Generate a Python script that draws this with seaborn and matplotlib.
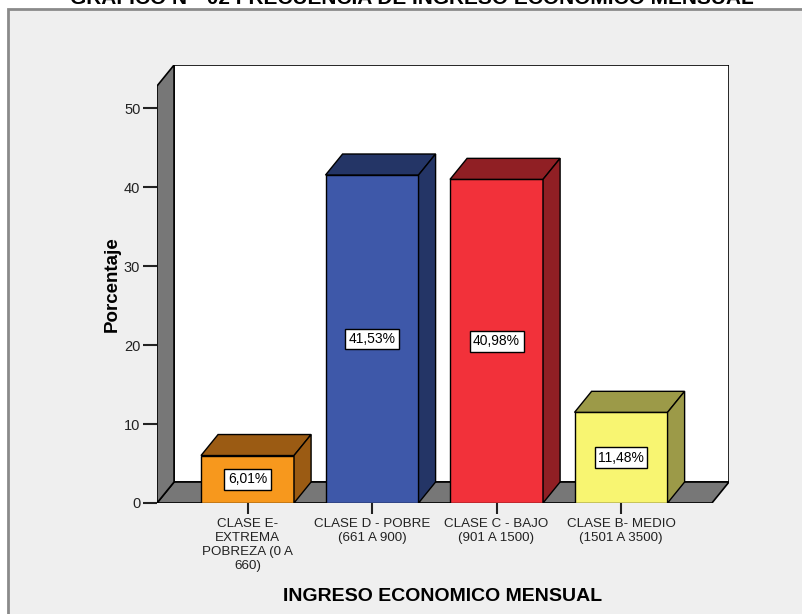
import matplotlib
matplotlib.use("Agg")
import matplotlib.pyplot as plt
from matplotlib.patches import Polygon, Rectangle
import seaborn as sns
import pandas as pd

# Data
categories = [
    "CLASE E-\nEXTREMA\nPOBREZA (0 A\n660)",
    "CLASE D - POBRE\n(661 A 900)",
    "CLASE C - BAJO\n(901 A 1500)",
    "CLASE B- MEDIO\n(1501 A 3500)",
]
porcentaje = [6.01, 41.53, 40.98, 11.48]
yticks = [0, 10, 20, 30, 40, 50]

# Colours: front face / shaded top & side faces
front_colors = ["#F7981D", "#3E58A9", "#F2313A", "#F8F571"]
shade_colors = ["#9B5B13", "#243566", "#901F24", "#9C9A48"]
wall_gray = "#777777"
bg_gray = "#EFEFEF"

# 3D look parameters (depth offset in data units)
DX, DY = 0.137, 2.66
X_LEFT, X_RIGHT = -0.727, 3.73
WALL_TOP = 52.8
BAR_W = 0.747

sns.set_theme(style="white")
plt.rcParams["font.family"] = ["Liberation Sans", "DejaVu Sans"]

fig = plt.figure(figsize=(8.03, 6.14), dpi=100)
fig.patch.set_facecolor("white")

# Panel frame
fig.patches.append(Rectangle((8 / 803, -0.05), 1.2, (614 - 9) / 614 + 0.05,
                             transform=fig.transFigure, facecolor=bg_gray,
                             edgecolor="#8A8A8A", linewidth=2, zorder=-5))

fig.text(412 / 803, (614 - 4) / 614,
         "GRAFICO N°  02 FRECUENCIA DE INGRESO ECONOMICO MENSUAL",
         ha="center", va="baseline", fontsize=15, fontweight="bold", color="black")

ax = fig.add_axes([157 / 803, (614 - 503) / 614, (729 - 157) / 803, (503 - 65) / 614])
ax.set_facecolor("none")
ax.set_zorder(1)

df = pd.DataFrame({"cat": categories, "pct": porcentaje})
sns.barplot(data=df, x="cat", y="pct", hue="cat", palette=front_colors,
            legend=False, width=BAR_W, edgecolor="black", linewidth=1,
            saturation=1, ax=ax, zorder=2)

# Floor, left wall and back wall
ax.add_patch(Polygon([(X_LEFT, 0), (X_RIGHT, 0), (X_RIGHT + DX, DY), (X_LEFT + DX, DY)],
                     closed=True, facecolor=wall_gray, edgecolor="black", lw=1.2, zorder=0.6))
ax.add_patch(Polygon([(X_LEFT, 0), (X_LEFT, WALL_TOP), (X_LEFT + DX, WALL_TOP + DY), (X_LEFT + DX, DY)],
                     closed=True, facecolor=wall_gray, edgecolor="black", lw=1.2, zorder=0.6))
ax.add_patch(Rectangle((X_LEFT + DX, DY), X_RIGHT - X_LEFT, WALL_TOP,
                       facecolor="white", edgecolor="black", lw=1.2, zorder=0.5))

# Top and side faces of each bar, plus the value label
for patch, val, shade in zip(ax.patches[:len(porcentaje)], porcentaje, shade_colors):
    x0 = patch.get_x()
    x1 = x0 + patch.get_width()
    h = patch.get_height()
    ax.add_patch(Polygon([(x0, h), (x1, h), (x1 + DX, h + DY), (x0 + DX, h + DY)],
                         closed=True, facecolor=shade, edgecolor="black", lw=1, zorder=2))
    ax.add_patch(Polygon([(x1, 0), (x1, h), (x1 + DX, h + DY), (x1 + DX, DY)],
                         closed=True, facecolor=shade, edgecolor="black", lw=1, zorder=2))
    ax.text((x0 + x1) / 2, h / 2, f"{val:.2f}%".replace(".", ","),
            ha="center", va="center", fontsize=10, color="black", zorder=3,
            bbox=dict(boxstyle="square,pad=0.25", facecolor="white", edgecolor="black", lw=1))

ax.set_xlim(X_LEFT, X_RIGHT + DX)
ax.set_ylim(0, WALL_TOP + DY)
for s in ax.spines.values():
    s.set_visible(False)

ax.set_yticks(yticks)
ax.set_yticklabels([str(t) for t in yticks], fontsize=10.5, color="#222222")
ax.set_xticks(range(len(categories)))
ax.set_xticklabels(categories, fontsize=9.6, color="#222222", linespacing=1.2)
ax.tick_params(axis="y", direction="out", length=10, width=1.5, color="#222222",
               left=True, pad=2)
ax.tick_params(axis="x", direction="out", length=8, width=1.5, color="#222222",
               bottom=True, pad=3)

ax.set_ylabel("Porcentaje", fontsize=13.5, fontweight="bold", color="black", labelpad=2)
ax.set_xlabel("INGRESO ECONOMICO MENSUAL", fontsize=14, fontweight="bold",
              color="black", labelpad=12)

fig.savefig("out.png", dpi=100)
